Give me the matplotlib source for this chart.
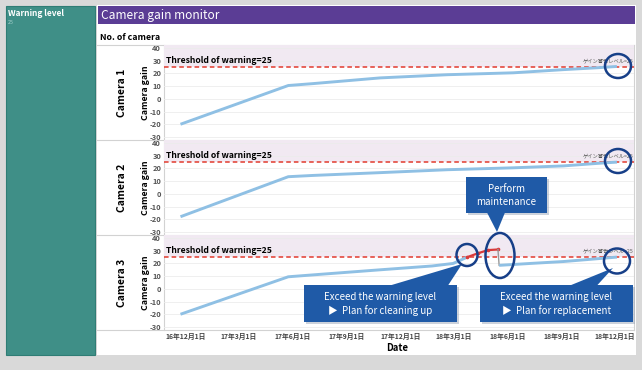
import pandas as pd
import numpy as np
import matplotlib
matplotlib.use("Agg")
import matplotlib.pyplot as plt
import matplotlib.transforms as mtransforms
from matplotlib.patches import Rectangle, Polygon, Ellipse

plt.rcParams['font.family'] = ['Noto Sans CJK JP', 'DejaVu Sans']

# ---------------------------
# data
# ---------------------------
cam_names = ["Camera 1", "Camera 2", "Camera 3"]
threshold = 25

dates_cam1 = ["2016-11-23", "2017-05-25", "2017-07-06", "2017-10-28", "2018-02-19",
              "2018-06-11", "2018-09-04", "2018-11-01", "2018-12-04"]
gain_cam1 = [-20, 10.5, 12, 16.5, 19, 20.5, 23, 24.5, 25.5]

dates_cam2 = dates_cam1
gain_cam2 = [-18, 13.5, 14.5, 16.7, 19, 20.5, 22, 24, 25]

# camera 3 is split in pieces: normal, over threshold (red), maintenance drop, normal again
dates_cam3_a = ["2016-11-23", "2017-05-25", "2017-07-06", "2017-10-28", "2018-01-24",
                "2018-03-01", "2018-03-25"]
gain_cam3_a = [-20, 9.5, 11, 15, 18, 20, 25]
dates_cam3_red = ["2018-03-25", "2018-04-12", "2018-04-29", "2018-05-16"]
gain_cam3_red = [25, 28, 30.5, 31]
dates_cam3_drop = ["2018-05-16", "2018-05-18"]
gain_cam3_drop = [31, 18.5]
dates_cam3_b = ["2018-05-18", "2018-07-10", "2018-09-04", "2018-12-04"]
gain_cam3_b = [18.5, 20, 21.5, 25]

tick_dates = ["2016-12-01", "2017-03-01", "2017-06-01", "2017-09-01", "2017-12-01",
              "2018-03-01", "2018-06-01", "2018-09-01", "2018-12-01"]
tick_labels = ["16年12月1日", "17年3月1日", "17年6月1日", "17年9月1日", "17年12月1日",
               "18年3月1日", "18年6月1日", "18年9月1日", "18年12月1日"]
y_ticks = [-30, -20, -10, 0, 10, 20, 30, 40]

W, H = 642, 370
fig = plt.figure(figsize=(W / 100, H / 100), dpi=100)
fig.patch.set_facecolor("#d9d9d9")


def px_axes(x0, y0, x1, y1, **kw):
    # axes placed by pixel box (top-left origin)
    return fig.add_axes([x0 / W, 1 - y1 / H, (x1 - x0) / W, (y1 - y0) / H], **kw)


# background layer in pixel coordinates
bg = px_axes(0, 0, W, H, zorder=0)
bg.set_xlim(0, W)
bg.set_ylim(H, 0)
bg.axis("off")

teal = "#3f8f87"
purple = "#5b3d95"
bg.add_patch(Rectangle((6, 6), 89, 349, facecolor=teal, edgecolor="#2f7d75", lw=0.8))
bg.text(8, 13, "Warning level", color="white", fontsize=6, fontweight="bold", va="center")
bg.text(8, 22, "25", color="#a9d3ce", fontsize=3.8, va="center")

bg.add_patch(Rectangle((97, 5), 539, 350, facecolor="white", edgecolor="none"))
bg.add_patch(Rectangle((98, 6), 537, 18, facecolor=purple, edgecolor="none"))
bg.text(101, 15.5, "Camera gain monitor", color="white", fontsize=8.6, va="center")
bg.text(100, 38, "No. of camera", color="black", fontsize=6.3, fontweight="bold", va="center")

panel_tops = [45, 140, 235]
panel_bot = 330
line_col = "#d2d2d2"
for y in panel_tops + [panel_bot]:
    bg.plot([97, 634], [y, y], color=line_col, lw=0.8)
bg.plot([164, 164], [45, panel_bot], color=line_col, lw=0.8)
bg.plot([634, 634], [45, panel_bot], color=line_col, lw=0.8)

for name, top in zip(cam_names, panel_tops):
    bg.text(122, top + 47.5, name, rotation=90, fontsize=7.5, fontweight="bold",
            ha="center", va="center")
    bg.text(145, top + 47.5, "Camera gain", rotation=90, fontsize=6.3, fontweight="bold",
            ha="center", va="center")

bg.text(397, 348, "Date", fontsize=6.8, fontweight="bold", ha="center", va="center")

# ---------------------------
# the three gain panels
# ---------------------------
blue = "#8fc0e4"
red_line = "#e23b2e"
series = [
    [(dates_cam1, gain_cam1, blue)],
    [(dates_cam2, gain_cam2, blue)],
    [(dates_cam3_a, gain_cam3_a, blue), (dates_cam3_red, gain_cam3_red, "#d93a3a"),
     (dates_cam3_drop, gain_cam3_drop, "#9a9a9a"), (dates_cam3_b, gain_cam3_b, blue)],
]

xmin, xmax = pd.Timestamp("2016-10-26"), pd.Timestamp("2019-01-02")
ymin, ymax = -32.4, 42.4

for i, top in enumerate(panel_tops):
    ax = px_axes(164, top, 634, top + 95, zorder=1)
    ax.set_facecolor("none")
    ax.set_xlim(xmin, xmax)
    ax.set_ylim(ymin, ymax)
    for s in ax.spines.values():
        s.set_visible(False)
    ax.set_yticks(y_ticks)
    ax.set_yticklabels([str(v) for v in y_ticks], fontsize=5.4, fontweight="bold", color="#555555")
    ax.tick_params(axis="both", length=0, pad=2)
    ax.grid(axis="y", color="#ececec", lw=0.6)
    ax.set_axisbelow(True)
    ax.axhspan(threshold, ymax, color="#f1e9f2", zorder=0, lw=0)
    ax.axhline(threshold, color=red_line, lw=1.1, ls=(0, (3, 2)), zorder=2)

    for d, g, c in series[i]:
        if c == "#9a9a9a":
            ax.plot(pd.to_datetime(d), g, color=c, lw=1.0, zorder=3)
        elif c == blue:
            ax.plot(pd.to_datetime(d), g, color=c, lw=2.1, zorder=3, solid_capstyle="butt")
        else:
            ax.plot(pd.to_datetime(d), g, color=c, lw=1.6, marker="o", ms=1.6, zorder=3)

    trans = mtransforms.blended_transform_factory(ax.transAxes, ax.transData)
    ax.text(0.005, 30, "Threshold of warning=25", transform=trans, fontsize=6.2,
            fontweight="bold", va="center", ha="left")
    ax.text(0.998, 29.5, "ゲイン警告レベル=25", transform=trans, fontsize=3.8,
            color="#555555", va="center", ha="right")

    ax.set_xticks(pd.to_datetime(tick_dates))
    if i == 2:
        ax.set_xticklabels(tick_labels, fontsize=4.9, fontweight="bold", color="#444444")
    else:
        ax.set_xticklabels([])

# ---------------------------
# callouts and circles on top
# ---------------------------
ov = px_axes(0, 0, W, H, zorder=5)
ov.set_xlim(0, W)
ov.set_ylim(H, 0)
ov.axis("off")
ov.patch.set_alpha(0)

box_col = "#1f5aa7"
ring_col = "#173f88"

boxes = [
    ((304, 285, 457, 322), [(390, 285.5), (462, 264), (448, 285.5)],
     "Exceed the warning level\n▶  Plan for cleaning up"),
    ((466, 177, 547, 213), [(487, 212.5), (497, 232), (505, 212.5)],
     "Perform\nmaintenance"),
    ((480, 285, 633, 322), [(570, 285.5), (613, 268), (597, 285.5)],
     "Exceed the warning level\n▶  Plan for replacement"),
]
for (x0, y0, x1, y1), tail, txt in boxes:
    ov.add_patch(Rectangle((x0 + 1.5, y0 + 1.5), x1 - x0, y1 - y0, facecolor="#9aa6b8",
                           edgecolor="none", alpha=0.5))
    ov.add_patch(Rectangle((x0, y0), x1 - x0, y1 - y0, facecolor=box_col, edgecolor="none"))
    ov.add_patch(Polygon(tail, closed=True, facecolor=box_col, edgecolor="none"))
    ov.text((x0 + x1) / 2, (y0 + y1) / 2 + 0.5, txt, color="white", fontsize=7,
            ha="center", va="center", multialignment="center", linespacing=1.3)

rings = [(618, 66, 26, 24), (618, 161, 26, 24), (617, 261, 26, 25),
         (467, 255, 21, 22), (500, 255.5, 29, 45)]
for cx, cy, w, h in rings:
    ov.add_patch(Ellipse((cx, cy), w, h, facecolor="none", edgecolor=ring_col, lw=1.8))

plt.savefig("out.png", dpi=100, facecolor=fig.get_facecolor())
